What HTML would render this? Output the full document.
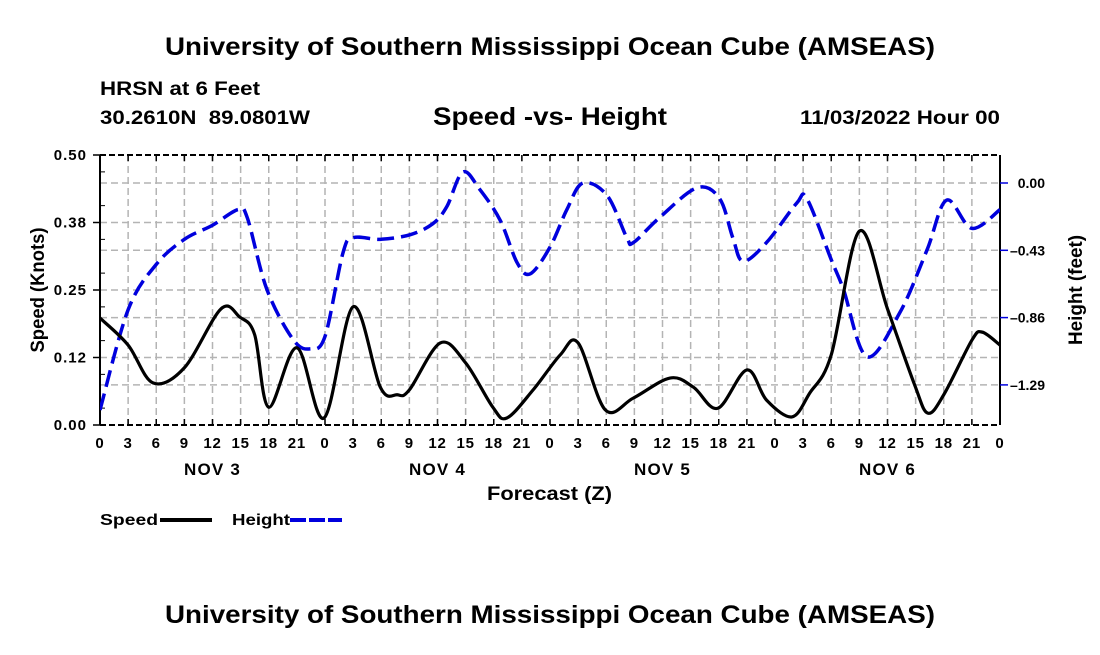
<!DOCTYPE html>
<html><head><meta charset="utf-8"><style>
body{margin:0;background:#fff;}
svg text{font-family:"Liberation Sans",Arial,sans-serif;font-weight:bold;fill:#000;}
</style></head><body>
<svg id="chart" width="1100" height="650" xmlns="http://www.w3.org/2000/svg">
<rect width="1100" height="650" fill="#fff"/>
<text x="165" y="55" font-size="25" textLength="770" lengthAdjust="spacingAndGlyphs">University of Southern Mississippi Ocean Cube (AMSEAS)</text>
<text x="100" y="95" font-size="19" textLength="160" lengthAdjust="spacingAndGlyphs">HRSN at 6 Feet</text>
<text x="100" y="124" font-size="19" xml:space="preserve" textLength="210" lengthAdjust="spacingAndGlyphs">30.2610N  89.0801W</text>
<text x="433" y="125" font-size="25" textLength="234" lengthAdjust="spacingAndGlyphs">Speed -vs- Height</text>
<text x="800" y="124" font-size="19" textLength="200" lengthAdjust="spacingAndGlyphs">11/03/2022 Hour 00</text>
<g id="grid"></g>
<g id="axes"></g>
<g id="series"></g>
<text x="487" y="500" font-size="19" textLength="125" lengthAdjust="spacingAndGlyphs">Forecast (Z)</text>
<text transform="translate(44,290) rotate(-90)" text-anchor="middle" font-size="19" textLength="125" lengthAdjust="spacingAndGlyphs">Speed (Knots)</text>
<text transform="translate(1082,290) rotate(-90)" text-anchor="middle" font-size="19" textLength="110" lengthAdjust="spacingAndGlyphs">Height (feet)</text>
<g>
<text x="100" y="525" font-size="16" textLength="58" lengthAdjust="spacingAndGlyphs">Speed</text>
<line x1="160" y1="520" x2="212" y2="520" stroke="#000" stroke-width="4"/>
<text x="232" y="525" font-size="16" textLength="58" lengthAdjust="spacingAndGlyphs">Height</text>
<line x1="290" y1="520" x2="342" y2="520" stroke="#0000dd" stroke-width="4" stroke-dasharray="16,3"/>
</g>
<text x="165" y="623" font-size="25" textLength="770" lengthAdjust="spacingAndGlyphs">University of Southern Mississippi Ocean Cube (AMSEAS)</text>
</svg>
<script>
const speedHours=[0,3,5.65,9,12.9,14.9,16.5,18,21,23.9,27,29.9,31.7,33,36.3,39,41.9,43.4,46.2,49.1,51,53.9,56.9,60.8,63.3,65.9,69,71.1,73.8,75.7,78,81,84,86.9,88.3,90,93,94.1,96];
const speedVals=[0.198,0.148,0.078,0.106,0.215,0.2,0.167,0.033,0.143,0.013,0.219,0.070,0.056,0.065,0.152,0.115,0.033,0.013,0.065,0.130,0.152,0.028,0.05,0.087,0.070,0.031,0.102,0.046,0.015,0.059,0.13,0.359,0.215,0.074,0.022,0.056,0.157,0.172,0.148];
const heightHours=[0,3,6,9,12,14.7,15.7,17.8,20.6,22.4,24,25.9,27,29.9,33.1,35.5,37,38.7,40.5,42.7,44.5,45.9,48,49.8,51.5,54.1,56.2,56.9,59.7,63.7,66.1,67.5,68.6,71.1,74.3,75.4,78,79.3,81.8,85.3,88.2,90.3,93,96];
const heightVals=[-1.45,-0.81,-0.52,-0.36,-0.27,-0.17,-0.22,-0.68,-1.00,-1.06,-0.98,-0.45,-0.35,-0.36,-0.33,-0.26,-0.15,0.07,-0.04,-0.24,-0.51,-0.58,-0.41,-0.17,0.0,-0.08,-0.35,-0.38,-0.22,-0.03,-0.10,-0.35,-0.50,-0.38,-0.13,-0.10,-0.49,-0.68,-1.11,-0.83,-0.43,-0.11,-0.29,-0.17];
const xTickLabels=["0","3","6","9","12","15","18","21","0","3","6","9","12","15","18","21","0","3","6","9","12","15","18","21","0","3","6","9","12","15","18","21","0"];
const dayLabels=["NOV 3","NOV 4","NOV 5","NOV 6"];
const speedTicks=[0,0.125,0.25,0.375,0.5];
const speedTickLabels=["0.00","0.12","0.25","0.38","0.50"];
const heightTicks=[0,-0.43,-0.86,-1.29];
const heightTickLabels=["0.00","\u20130.43","\u20130.86","\u20131.29"];

const NS="http://www.w3.org/2000/svg";
const L=100,R=1000,T=155,B=425;
const xS=h=>L+(h/96)*(R-L);
const yS=v=>B-(v/0.5)*(B-T);
const yH=h=>183-(h/0.43)*67.3;
function mk(tag,attrs,parent){const e=document.createElementNS(NS,tag);for(const k in attrs)e.setAttribute(k,attrs[k]);parent.appendChild(e);return e;}
const grid=document.getElementById('grid'),axes=document.getElementById('axes'),series=document.getElementById('series');
for(let i=1;i<xTickLabels.length-1;i++){
  const g=mk('line',{x1:xS(i*3),x2:xS(i*3),y1:T,y2:B,stroke:'#b4b4b4','stroke-width':1.5,'stroke-dasharray':'7,4'},grid);
  
  
}
speedTicks.slice(1,4).forEach(v=>{
  const g=mk('line',{x1:L,x2:R,y1:yS(v),y2:yS(v),stroke:'#b4b4b4','stroke-width':1.5,'stroke-dasharray':'7,4'},grid);
  
  
});
heightTicks.forEach(v=>{
  const g=mk('line',{x1:L,x2:R,y1:yH(v),y2:yH(v),stroke:'#b4b4b4','stroke-width':1.5,'stroke-dasharray':'7,4'},grid);
  
  
});
const fr=mk('line',{x1:L,y1:T,x2:L,y2:B,stroke:'#000','stroke-width':2},axes);


const fr2=mk('line',{x1:R,y1:T,x2:R,y2:B,stroke:'#000','stroke-width':2},axes);


const fb=mk('line',{x1:L,y1:B,x2:R,y2:B,stroke:'#000','stroke-width':2,'stroke-dasharray':'6,3'},axes);


const ft=mk('line',{x1:L,y1:T,x2:R,y2:T,stroke:'#000','stroke-width':2,'stroke-dasharray':'6,3'},axes);


xTickLabels.forEach((t,i)=>{
  const x=xS(i*3);
  mk('line',{x1:x,x2:x,y1:B,y2:B-6,stroke:'#000','stroke-width':1.5},axes);
  mk('line',{x1:x,x2:x,y1:T,y2:T+6,stroke:'#000','stroke-width':1.5},axes);
  const tx=mk('text',{x:x,y:B+23,'text-anchor':'middle','font-size':15,'letter-spacing':0.8},axes);
  tx.textContent=t;
  
  
});
dayLabels.forEach((d,i)=>{
  const tx=mk('text',{x:xS(12+24*i),y:B+50,'text-anchor':'middle','font-size':17,'letter-spacing':1.2},axes);
  tx.textContent=d;
  
  
});
speedTicks.forEach((v,i)=>{
  mk('line',{x1:L-7,x2:L,y1:yS(v),y2:yS(v),stroke:'#000','stroke-width':1.5},axes);
  const tx=mk('text',{x:L-13,y:yS(v)+5,'text-anchor':'end','font-size':15,'letter-spacing':1},axes);
  tx.textContent=speedTickLabels[i];
  
  
});
for(let i=0;i<8;i++){const v=i*0.0625+0.03125;mk('line',{x1:L,x2:L+5,y1:yS(v),y2:yS(v),stroke:'#000','stroke-width':1},axes);}
heightTicks.forEach((v,i)=>{
  mk('line',{x1:R,x2:R+8,y1:yH(v),y2:yH(v),stroke:'#0000dd','stroke-width':1.5},axes);
  const tx=mk('text',{x:1045,y:yH(v)+5,'text-anchor':'end','font-size':14},axes);
  tx.textContent=heightTickLabels[i];
  
  
});
function smooth(pts){
  let d=`M${pts[0][0]},${pts[0][1]}`;
  for(let i=0;i<pts.length-1;i++){
    const p0=pts[Math.max(0,i-1)],p1=pts[i],p2=pts[i+1],p3=pts[Math.min(pts.length-1,i+2)];
    const c1x=p1[0]+(p2[0]-p0[0])/6,c1y=p1[1]+(p2[1]-p0[1])/6;
    const c2x=p2[0]-(p3[0]-p1[0])/6,c2y=p2[1]-(p3[1]-p1[1])/6;
    d+=` C${c1x},${c1y} ${c2x},${c2y} ${p2[0]},${p2[1]}`;
  }
  return d;
}
const cp=mk('clipPath',{id:'clip'},series);
mk('rect',{x:L,y:T,width:R-L,height:B-T},cp);
const hp=mk('path',{d:smooth(heightHours.map((h,i)=>[xS(h),yH(heightVals[i])])),fill:'none',stroke:'#0000dd','stroke-width':3.5,'stroke-dasharray':'17,7','clip-path':'url(#clip)'},series);


const sp=mk('path',{d:smooth(speedHours.map((h,i)=>[xS(h),yS(speedVals[i])])),fill:'none',stroke:'#000','stroke-width':3.2,'clip-path':'url(#clip)'},series);


</script>
</body></html>
